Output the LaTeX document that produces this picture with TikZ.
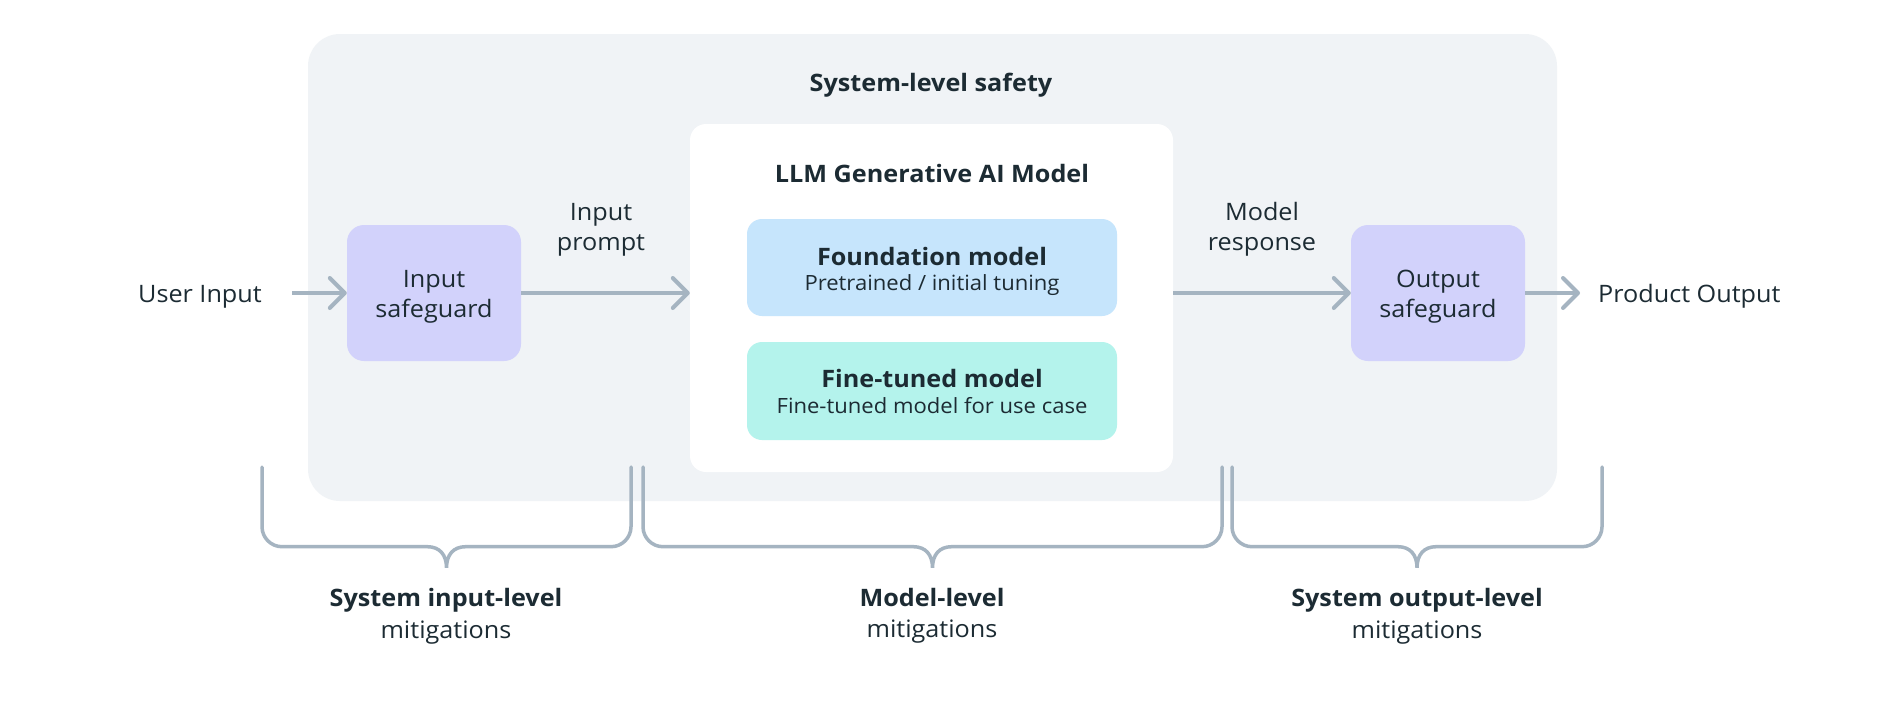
\documentclass[tikz,border=0pt]{standalone}
\usepackage{fontspec}
\setmainfont{Open Sans}[FakeStretch=1.05]
\usetikzlibrary{arrows.meta,calc}
\definecolor{sysbg}{HTML}{F0F3F6}
\definecolor{purp}{HTML}{D2D2FB}
\definecolor{fblue}{HTML}{C6E5FC}
\definecolor{fteal}{HTML}{B4F3EC}
\definecolor{lgrey}{HTML}{A5B4C1}
\definecolor{ink}{HTML}{1C2B33}
\newcommand\mybracepath[4]{%
  \draw[brc] (#1,#3) -- (#1,#4-20) .. controls (#1,#4-9) and (#1+9,#4) .. (#1+20,#4)
   -- ({(#1+#2)/2-19},#4) .. controls ({(#1+#2)/2-7},#4) and ({(#1+#2)/2},#4+8) .. ({(#1+#2)/2},#4+21)
   .. controls ({(#1+#2)/2},#4+8) and ({(#1+#2)/2+7},#4) .. ({(#1+#2)/2+19},#4)
   -- (#2-20,#4) .. controls (#2-9,#4) and (#2,#4-9) .. (#2,#4-20) -- (#2,#3);}
\begin{document}
\begin{tikzpicture}[x=1pt,y=-1pt,
  box/.style={draw=none, inner sep=0pt, rectangle},
  txt/.style={text=ink, inner sep=0pt, anchor=base, font=\fontsize{24}{28}\selectfont},
  btxt/.style={txt, font=\fontsize{24}{28}\selectfont\bfseries},
  stxt/.style={txt, font=\fontsize{21}{26}\selectfont},
  arr/.style={draw=lgrey, line width=4pt, -{Straight Barb[length=15pt,width=30pt,round]}},
  brc/.style={draw=lgrey, line width=3.5pt, line cap=round}]
\useasboundingbox[fill=white] (0,0) rectangle (1886,712);
% boxes
\node[box, fill=sysbg, rounded corners=32pt, minimum width=1249pt, minimum height=467pt] (sys) at (932.5,267.5) {};
\node[box, fill=white, rounded corners=16pt, minimum width=483pt, minimum height=348pt] (llm) at (931.5,298) {};
\node[box, fill=fblue, rounded corners=15pt, minimum width=370pt, minimum height=97pt] (fnd) at (932,267.5) {};
\node[box, fill=fteal, rounded corners=15pt, minimum width=370pt, minimum height=98pt] (ftm) at (932,391) {};
\node[box, fill=purp, rounded corners=17pt, minimum width=174pt, minimum height=136pt] (isg) at (434,293) {};
\node[box, fill=purp, rounded corners=17pt, minimum width=174pt, minimum height=136pt] (osg) at (1438,293) {};
% texts
\node[btxt] (title) at (931,91.7) {System-level safety};
\node[btxt] (llmt) at (932,182.7) {LLM Generative AI Model};
\node[btxt] (fndt) at (932,265) {Foundation model};
\node[stxt] (fnds) at (932,290.7) {Pretrained / initial tuning};
\node[btxt] (ftmt) at (932,387.3) {Fine-tuned model};
\node[stxt] (ftms) at (932,413.3) {Fine-tuned model for use case};
\node[txt] (isg1) at (434,287) {Input};
\node[txt] (isg2) at (434,317) {safeguard};
\node[txt] (osg1) at (1438,287) {Output};
\node[txt] (osg2) at (1438,317) {safeguard};
\node[txt] (ip1) at (601,220) {Input};
\node[txt] (ip2) at (601,250) {prompt};
\node[txt] (mr1) at (1262,220) {Model};
\node[txt] (mr2) at (1262,250) {response};
\node[txt, anchor=base east] (uin) at (262,302) {User Input};
\node[txt, anchor=base west] (pout) at (1598,302) {Product Output};
\node[btxt] (b1a) at (446,606) {System input-level};
\node[txt] (b1b) at (446,638) {mitigations};
\node[btxt] (b2a) at (932,606) {Model-level};
\node[txt] (b2b) at (932,637) {mitigations};
\node[btxt] (b3a) at (1417,606) {System output-level};
\node[txt] (b3b) at (1417,638) {mitigations};
% arrows
\draw[arr] ($(uin.east |- isg.west)+(30,0)$) -- (isg.west);
\draw[arr] (isg.east) -- (isg.east -| llm.west);
\draw[arr] (llm.east |- osg.west) -- (osg.west);
\draw[arr] (osg.east) -- ($(pout.west |- osg.east)+(-18,0)$);
% braces
\mybracepath{262}{631}{467}{546.7}
\mybracepath{643}{1222}{467}{546.7}
\mybracepath{1232}{1602}{467}{546.7}
\end{tikzpicture}
\end{document}
